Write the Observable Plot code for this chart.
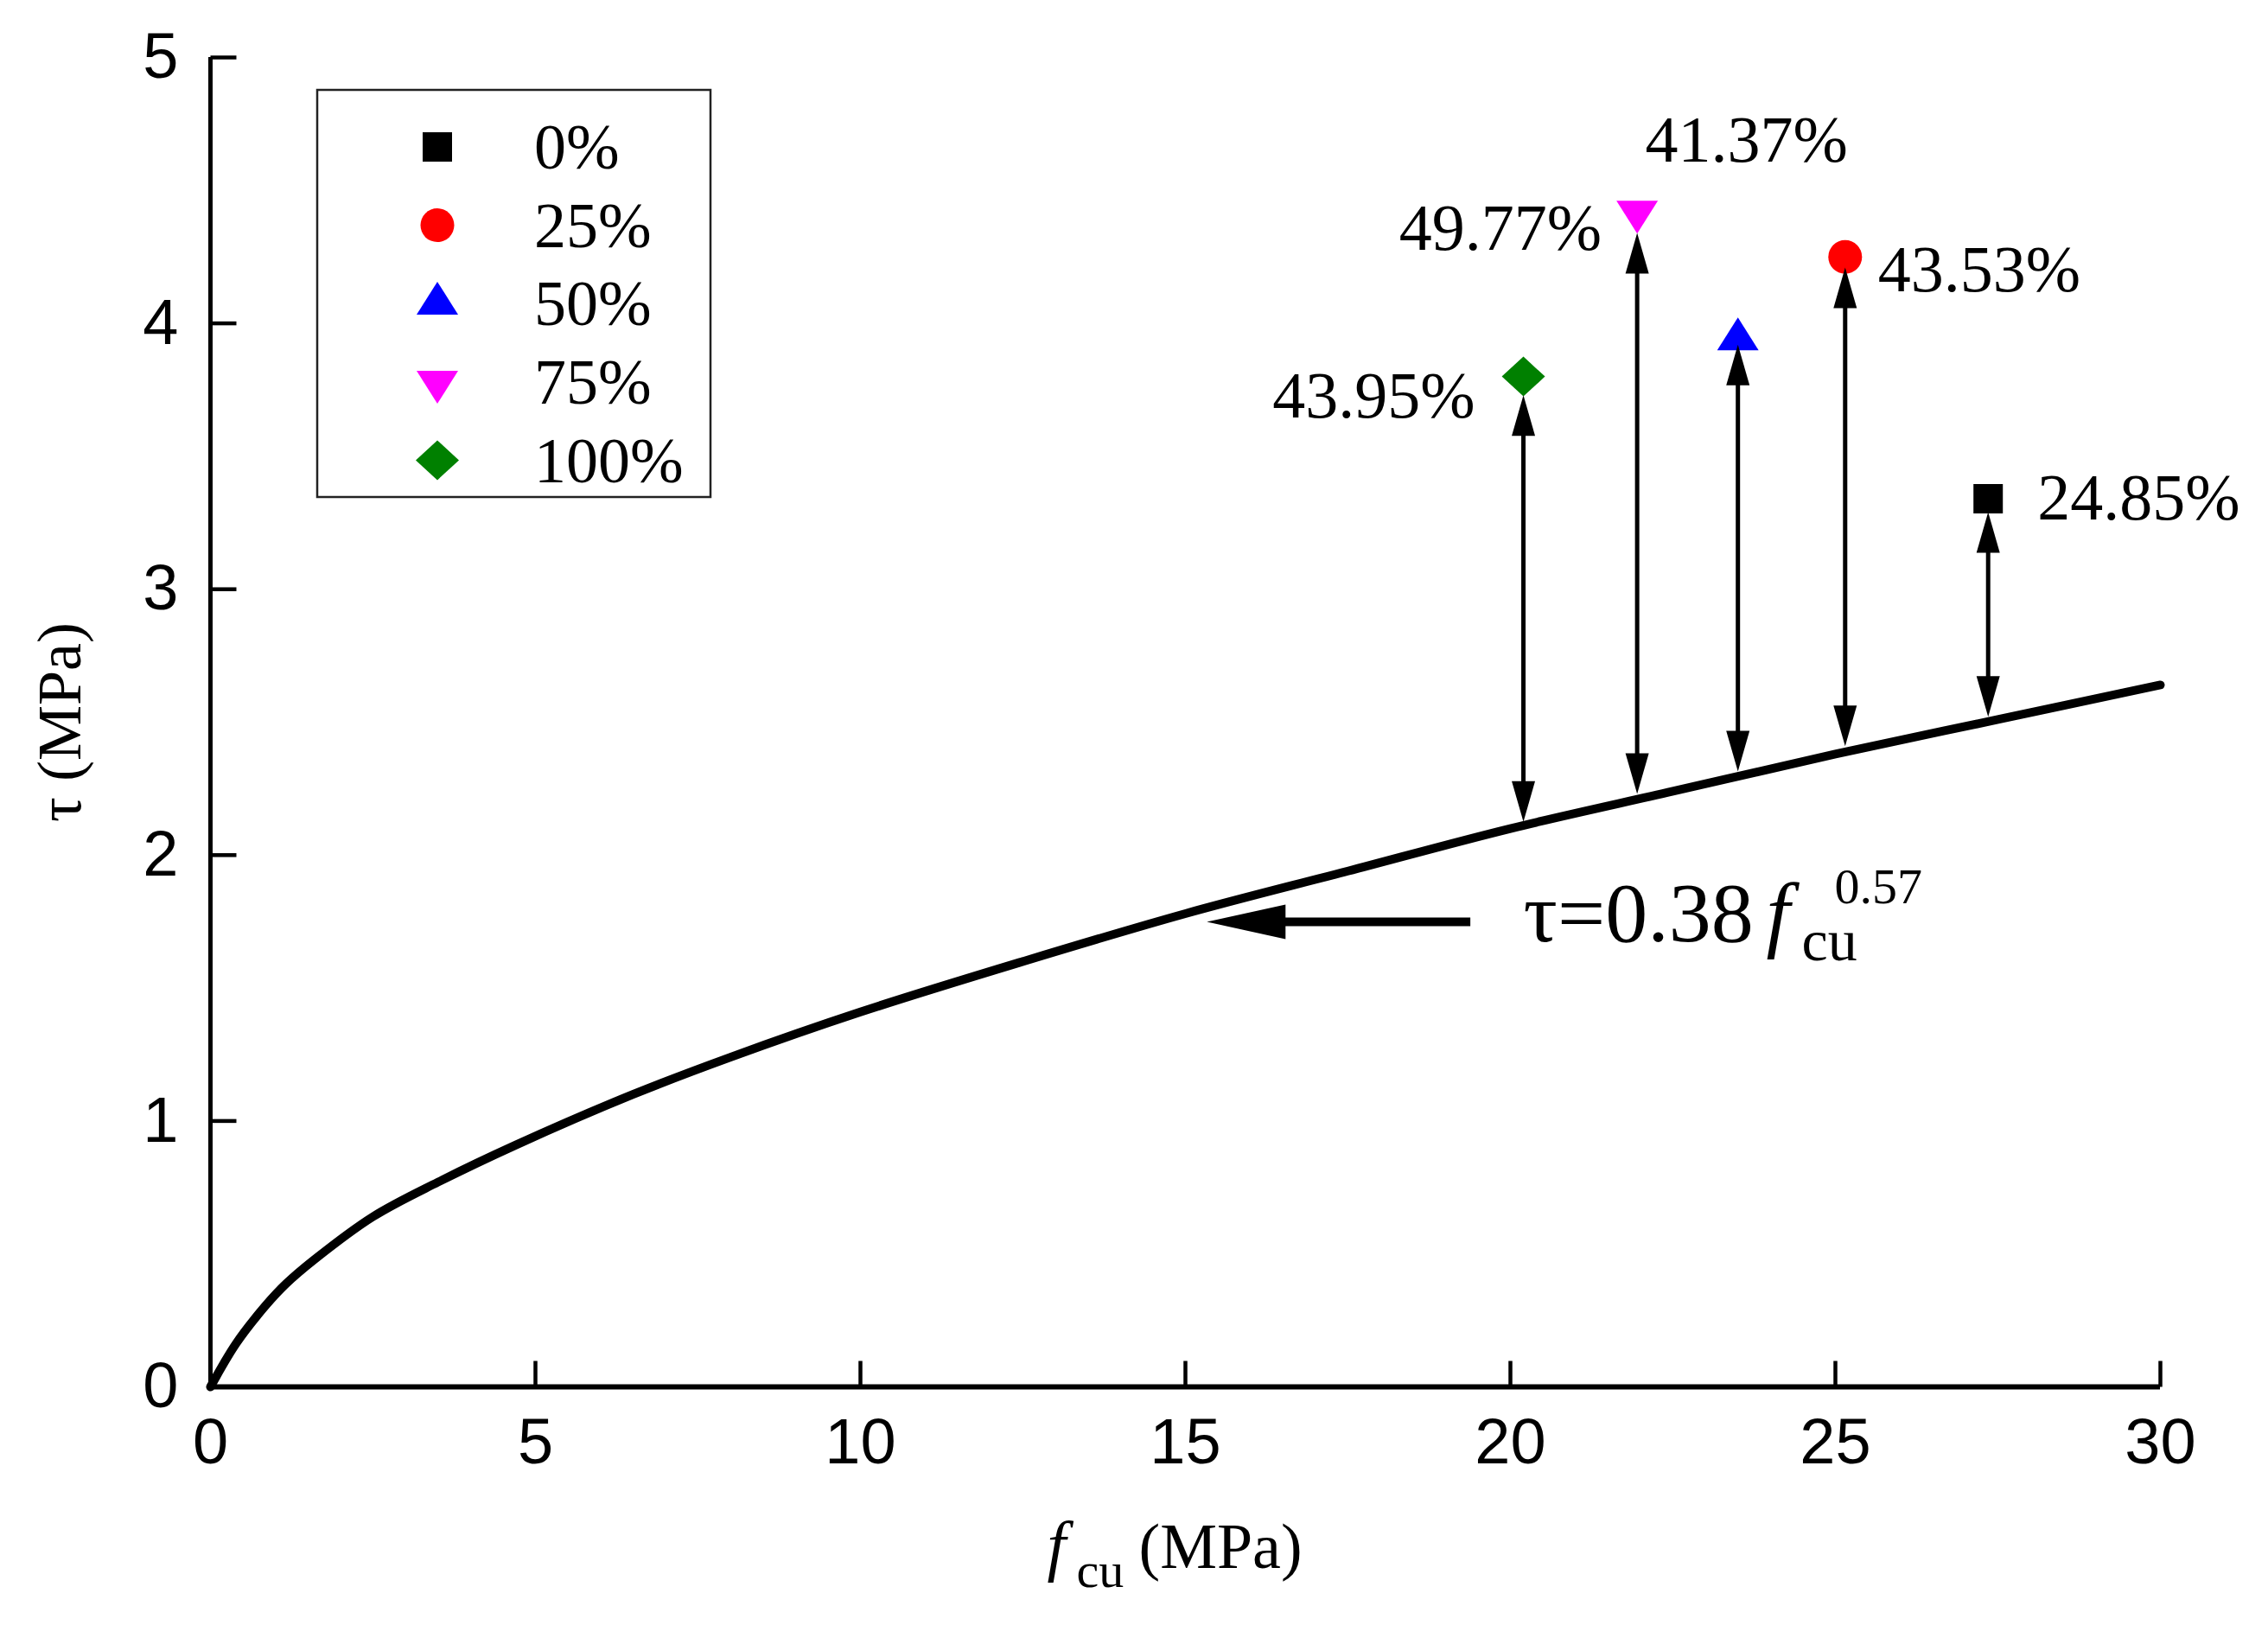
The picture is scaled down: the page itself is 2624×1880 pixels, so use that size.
<!DOCTYPE html>
<html>
<head>
<meta charset="utf-8">
<script src="https://cdn.jsdelivr.net/npm/d3@7"></script>
<script src="https://cdn.jsdelivr.net/npm/@observablehq/plot@0.6"></script>
<style>
  body { margin: 0; background: #fff; }
</style>
</head>
<body>
<div id="chart"></div>
<script>
// fitted curve tau = 0.38 fcu^0.57
const curveF   = [0, 0.4, 0.85, 1.16, 1.6, 2.5, 3.5, 4.7, 6.5, 8, 10, 12.5, 15, 17.5, 20, 22.5, 25, 27.5, 30]
const curveTau = [0, 0.165, 0.306, 0.387, 0.479, 0.64, 0.77, 0.91, 1.1, 1.24, 1.41, 1.6, 1.78, 1.94, 2.1, 2.24, 2.38, 2.51, 2.64]

// test points, one per replacement ratio
const categories = ['0%', '25%', '50%', '75%', '100%']
const fcu        = [27.35, 25.15, 23.5, 21.95, 20.2]
const tau        = [3.34, 4.25, 3.94, 4.42, 3.80]
const errorText  = ['24.85%', '43.53%', '41.37%', '49.77%', '43.95%']
// double arrows between the curve and each point
const arrowLow   = [2.52, 2.41, 2.315, 2.23, 2.125]
const arrowHigh  = [3.29, 4.21, 3.92, 4.34, 3.73]

const xTicks = [0, 5, 10, 15, 20, 25, 30]
const yTicks = [0, 1, 2, 3, 4, 5]

// equation annotation
const eqX = 20.2, eqY = 1.677
const eqArrowY = 1.749, eqArrowFrom = 19.39, eqArrowTo = 15.33

const serif = 'Liberation Serif, Times New Roman, serif'
const sans = 'Liberation Sans, Arial, sans-serif'

// marker shapes
const square = {draw(c) { c.rect(-17, -17, 34, 34) }}
const circle = {draw(c) { c.moveTo(19.5, 0); c.arc(0, 0, 19.5, 0, 2 * Math.PI) }}
const triUp = {draw(c) { c.moveTo(0, -25.3); c.lineTo(24, 12.7); c.lineTo(-24, 12.7); c.closePath() }}
const triDown = {draw(c) { c.moveTo(0, 25.3); c.lineTo(24, -12.7); c.lineTo(-24, -12.7); c.closePath() }}
const diamond = {draw(c) { c.moveTo(0, -23); c.lineTo(25, 0); c.lineTo(0, 23); c.lineTo(-25, 0); c.closePath() }}
const symbols = [square, circle, triUp, triDown, diamond]
const colors = ['#000000', '#ff0000', '#0000ff', '#ff00ff', '#008000']
const labelPos = [
  {dx: 57, dy: 0, anchor: 'start'},
  {dx: 38, dy: 15, anchor: 'start'},
  {dx: 10, dy: -230, anchor: 'middle'},
  {dx: -41, dy: 20, anchor: 'end'},
  {dx: -56, dy: 23, anchor: 'end'},
]

const headUp = {draw(c) { c.moveTo(0, 0); c.lineTo(13.5, 47); c.lineTo(-13.5, 47); c.closePath() }}
const headDown = {draw(c) { c.moveTo(0, 0); c.lineTo(13.5, -47); c.lineTo(-13.5, -47); c.closePath() }}
const headLeft = {draw(c) { c.moveTo(0, 0); c.lineTo(91, -20); c.lineTo(91, 20); c.closePath() }}
const tickUp = {draw(c) { c.moveTo(0, 0); c.lineTo(0, -30) }}
const tickRight = {draw(c) { c.moveTo(0, 0); c.lineTo(30, 0) }}

const curve = curveF.map((f, i) => ({f, tau: curveTau[i]}))
const rows = categories.map((c, i) => ({
  cat: c, fcu: fcu[i], tau: tau[i], low: arrowLow[i], high: arrowHigh[i], label: errorText[i]
}))

function legend(index, scales, values, dim) {
  const g = d3.create('svg:g')
  const x0 = dim.marginLeft + 124, y0 = dim.marginTop + 38
  g.append('rect')
    .attr('x', x0).attr('y', y0).attr('width', 455).attr('height', 471)
    .attr('fill', 'white').attr('stroke', '#222').attr('stroke-width', 2.5)
  categories.forEach((c, i) => {
    const cy = y0 + 66 + i * 90.6
    g.append('path')
      .attr('d', d3.symbol(symbols[i])())
      .attr('transform', `translate(${x0 + 139},${cy})`)
      .attr('fill', colors[i])
    g.append('text')
      .attr('x', x0 + 251).attr('y', cy).attr('dy', '0.34em')
      .attr('text-anchor', 'start')
      .attr('font-family', serif).attr('font-size', 74)
      .attr('fill', 'black')
      .text(c)
  })
  return g.node()
}

const marks = [
  // axes lines and inward ticks
  Plot.ruleX([0], {strokeWidth: 5}),
  Plot.ruleY([0], {strokeWidth: 6}),
  Plot.dot(xTicks.slice(1), {x: d => d, y: 0, symbol: tickUp, fill: 'none', stroke: 'black', strokeWidth: 4.5}),
  Plot.dot(yTicks.slice(1), {x: 0, y: d => d, symbol: tickRight, fill: 'none', stroke: 'black', strokeWidth: 4.5}),

  Plot.line(curve, {x: 'f', y: 'tau', curve: 'catmull-rom', stroke: 'black', strokeWidth: 10}),
]

rows.forEach((r, i) => {
  marks.push(Plot.dot([r], {x: 'fcu', y: 'tau', symbol: symbols[i], fill: colors[i], stroke: 'none'}))
})

marks.push(
  Plot.ruleX(rows, {x: 'fcu', y1: 'high', y2: 'low', strokeWidth: 5, insetTop: 20, insetBottom: 20}),
  Plot.dot(rows, {x: 'fcu', y: 'high', symbol: headUp, fill: 'black', stroke: 'none'}),
  Plot.dot(rows, {x: 'fcu', y: 'low', symbol: headDown, fill: 'black', stroke: 'none'}),
)

rows.forEach((r, i) => {
  marks.push(Plot.text([r], {
    x: 'fcu', y: 'tau', text: 'label',
    dx: labelPos[i].dx, dy: labelPos[i].dy,
    textAnchor: labelPos[i].anchor, lineAnchor: 'middle',
    fontFamily: serif, fontSize: 76, fill: 'black'
  }))
})

// equation with its arrow
marks.push(
  Plot.ruleY([eqArrowY], {x1: eqArrowTo, x2: eqArrowFrom, strokeWidth: 10, insetLeft: 60}),
  Plot.dot([eqArrowY], {x: eqArrowTo, y: d => d, symbol: headLeft, fill: 'black', stroke: 'none'}),
  Plot.text(['τ=0.38'], {x: eqX, y: eqY, text: d => d, textAnchor: 'start', lineAnchor: 'bottom',
    fontFamily: serif, fontSize: 98, fill: 'black'}),
  Plot.text(['f'], {x: eqX, y: eqY, text: d => d, dx: 281, textAnchor: 'start', lineAnchor: 'bottom',
    fontFamily: serif, fontStyle: 'italic', fontSize: 98, fill: 'black'}),
  Plot.text(['cu'], {x: eqX, y: eqY, text: d => d, dx: 322, dy: 22, textAnchor: 'start', lineAnchor: 'bottom',
    fontFamily: serif, fontSize: 68, fill: 'black'}),
  Plot.text(['0.57'], {x: eqX, y: eqY, text: d => d, dx: 360, dy: -44, textAnchor: 'start', lineAnchor: 'bottom',
    fontFamily: serif, fontSize: 58, fill: 'black'}),
)

// axis titles
marks.push(
  Plot.text(['f'], {frameAnchor: 'bottom', text: d => d, dx: -160, dy: 209, textAnchor: 'start', lineAnchor: 'bottom',
    fontFamily: serif, fontStyle: 'italic', fontSize: 78, fill: 'black'}),
  Plot.text(['cu'], {frameAnchor: 'bottom', text: d => d, dx: -126, dy: 231, textAnchor: 'start', lineAnchor: 'bottom',
    fontFamily: serif, fontSize: 58, fill: 'black'}),
  Plot.text(['(MPa)'], {frameAnchor: 'bottom', text: d => d, dx: -54, dy: 209, textAnchor: 'start', lineAnchor: 'bottom',
    fontFamily: serif, fontSize: 74, fill: 'black'}),
  Plot.text(['τ (MPa)'], {frameAnchor: 'left', text: d => d, dx: -174, rotate: -90,
    textAnchor: 'middle', lineAnchor: 'middle', fontFamily: serif, fontSize: 72, fill: 'black'}),
  legend
)

let chart = Plot.plot({
  width: 2624,
  height: 1880,
  marginLeft: 243,
  marginRight: 125,
  marginTop: 66,
  marginBottom: 276,
  x: {domain: [0, 30], ticks: xTicks, tickSize: 0, tickPadding: 36, tickFormat: d3.format('d'), label: null},
  y: {domain: [0, 5], ticks: yTicks, tickSize: 0, tickPadding: 37, tickFormat: d3.format('d'), label: null},
  style: {
    fontFamily: sans,
    fontSize: '74px',
    color: 'black',
    background: 'white',
  },
  marks: marks,
})
d3.select('#chart').append(() => chart)
</script>
</body>
</html>
